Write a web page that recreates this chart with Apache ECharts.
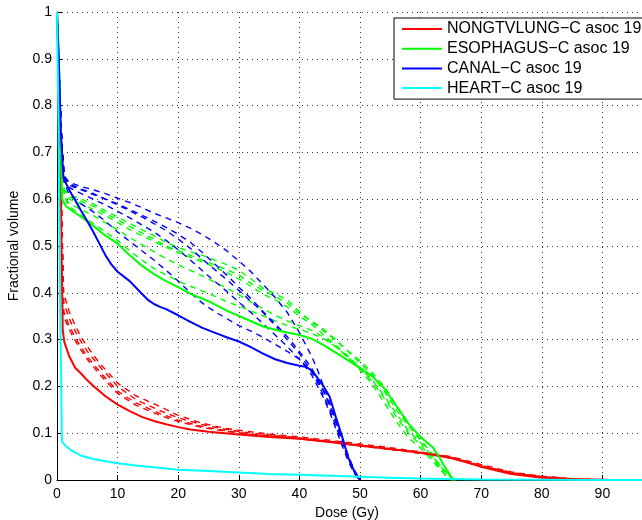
<!DOCTYPE html>
<html>
<head>
<meta charset="utf-8">
<script src="https://cdn.jsdelivr.net/npm/echarts@6/dist/echarts.min.js"></script>
<style>
  html, body { margin: 0; padding: 0; background: #fff; }
  #chart { width: 642px; height: 520px; }
</style>
</head>
<body>
<div id="chart"></div>
<script>
// Cumulative dose-volume histograms: planned curve (solid) and perturbed
// scenarios (dashed) for each structure.

const legendNames = [
  'NONGTVLUNG\u2212C asoc 19',
  'ESOPHAGUS\u2212C asoc 19',
  'CANAL\u2212C asoc 19',
  'HEART\u2212C asoc 19'
];

// Lung (solid)
const lungDose = [0, 0.3, 0.6, 0.8, 0.95, 1.2, 2, 3, 4, 5, 6, 8, 10, 12, 14, 16, 18, 20, 22, 25, 30, 35, 40, 45, 50, 55, 60, 63, 65, 68, 70, 72, 75, 78, 80, 82, 84, 86, 88];
const lungVol  = [1, 0.85, 0.65, 0.45, 0.32, 0.295, 0.265, 0.24, 0.227, 0.213, 0.201, 0.179, 0.161, 0.147, 0.135, 0.126, 0.119, 0.113, 0.108, 0.103, 0.097, 0.092, 0.088, 0.081, 0.073, 0.066, 0.058, 0.052, 0.047, 0.036, 0.028, 0.022, 0.013, 0.008, 0.005, 0.003, 0.0015, 0.0005, 0];

// Lung scenarios (dashed)
const lungAltDose = [0, 0.4, 0.8, 1.1, 2, 3, 4, 5, 7, 10, 13, 17, 20, 24, 28, 32, 36, 40, 45, 50, 55, 60, 65, 70, 75, 80, 85, 90, 95];
const lungAlt1 = [1, 0.8, 0.55, 0.40, 0.36, 0.33, 0.305, 0.285, 0.25, 0.207, 0.18, 0.157, 0.138, 0.121, 0.11, 0.103, 0.097, 0.092, 0.085, 0.077, 0.069, 0.06, 0.05, 0.033, 0.017, 0.008, 0.003, 0.001, 0];
const lungAlt2 = [1, 0.8, 0.55, 0.38, 0.345, 0.318, 0.295, 0.275, 0.243, 0.2, 0.172, 0.148, 0.133, 0.118, 0.108, 0.1, 0.095, 0.09, 0.083, 0.075, 0.067, 0.059, 0.049, 0.031, 0.016, 0.007, 0.003, 0.001, 0];
const lungAlt3 = [1, 0.8, 0.55, 0.36, 0.33, 0.305, 0.283, 0.264, 0.232, 0.19, 0.165, 0.142, 0.128, 0.114, 0.105, 0.098, 0.094, 0.089, 0.082, 0.074, 0.066, 0.058, 0.048, 0.03, 0.015, 0.007, 0.002, 0.001, 0];
const lungAlt4 = [1, 0.8, 0.55, 0.35, 0.322, 0.298, 0.277, 0.258, 0.226, 0.185, 0.16, 0.138, 0.125, 0.112, 0.104, 0.097, 0.093, 0.088, 0.081, 0.073, 0.065, 0.057, 0.047, 0.029, 0.014, 0.006, 0.002, 0.0008, 0];

// Esophagus (solid)
const esoDose = [0, 0.4, 0.7, 0.85, 1.5, 2, 4, 6, 8, 10, 12, 14, 16, 18, 20, 22, 25, 28, 31, 34, 37, 40, 42, 44, 46, 48, 50, 52, 54, 56, 58, 60, 62, 63, 64, 65, 65.5];
const esoVol  = [1, 0.85, 0.68, 0.6, 0.585, 0.58, 0.562, 0.543, 0.522, 0.505, 0.48, 0.458, 0.44, 0.425, 0.412, 0.398, 0.382, 0.362, 0.345, 0.328, 0.318, 0.31, 0.302, 0.288, 0.272, 0.256, 0.239, 0.222, 0.196, 0.158, 0.12, 0.092, 0.07, 0.05, 0.028, 0.008, 0];

// Esophagus scenarios (dashed)
const esoAltDose = [0, 0.4, 0.8, 1.2, 2, 4, 6, 8, 10, 12, 14, 16, 18, 20, 22, 24, 26, 28, 30, 32, 34, 36, 38, 40, 42, 44, 46, 48, 50, 52, 54, 56, 58, 60, 62, 63, 64, 65, 66];
const esoAlt1 = [1, 0.85, 0.7, 0.62, 0.61, 0.6, 0.59, 0.575, 0.562, 0.548, 0.535, 0.522, 0.508, 0.497, 0.488, 0.48, 0.47, 0.46, 0.448, 0.43, 0.41, 0.398, 0.385, 0.36, 0.338, 0.318, 0.298, 0.276, 0.255, 0.23, 0.2, 0.16, 0.122, 0.088, 0.05, 0.03, 0.012, 0, 0];
const esoAlt2 = [1, 0.85, 0.7, 0.615, 0.6, 0.59, 0.578, 0.565, 0.55, 0.535, 0.522, 0.51, 0.497, 0.486, 0.476, 0.466, 0.455, 0.443, 0.43, 0.414, 0.397, 0.385, 0.37, 0.35, 0.333, 0.31, 0.288, 0.265, 0.24, 0.21, 0.175, 0.135, 0.1, 0.075, 0.045, 0.028, 0.012, 0.002, 0];
const esoAlt3 = [1, 0.85, 0.7, 0.61, 0.59, 0.578, 0.565, 0.55, 0.535, 0.518, 0.503, 0.488, 0.473, 0.46, 0.448, 0.436, 0.423, 0.41, 0.396, 0.38, 0.366, 0.352, 0.34, 0.33, 0.32, 0.305, 0.285, 0.262, 0.235, 0.205, 0.165, 0.125, 0.09, 0.068, 0.04, 0.026, 0.012, 0.004, 0];
const esoAlt4 = [1, 0.85, 0.7, 0.605, 0.585, 0.565, 0.548, 0.53, 0.512, 0.49, 0.47, 0.452, 0.438, 0.425, 0.414, 0.404, 0.393, 0.381, 0.372, 0.361, 0.351, 0.34, 0.33, 0.322, 0.313, 0.302, 0.285, 0.262, 0.24, 0.214, 0.18, 0.142, 0.105, 0.08, 0.05, 0.034, 0.018, 0.006, 0];
const esoAlt5 = [1, 0.85, 0.7, 0.62, 0.605, 0.595, 0.585, 0.57, 0.556, 0.542, 0.528, 0.515, 0.5, 0.49, 0.48, 0.47, 0.46, 0.45, 0.438, 0.42, 0.405, 0.392, 0.378, 0.355, 0.34, 0.322, 0.3, 0.275, 0.25, 0.225, 0.19, 0.15, 0.115, 0.085, 0.055, 0.035, 0.02, 0.005, 0];

// Spinal canal (solid)
const canalDose = [0, 0.25, 0.65, 1.07, 2, 3, 4, 5, 6, 7, 8, 9, 10, 12, 14, 15, 16, 17, 18, 20, 22, 24, 26, 28, 30, 32, 34, 36, 38, 40, 41, 42, 43, 44, 45, 46, 47, 48, 49, 49.5, 50];
const canalVol  = [1, 0.92, 0.74, 0.645, 0.62, 0.598, 0.575, 0.553, 0.53, 0.505, 0.48, 0.46, 0.445, 0.425, 0.398, 0.385, 0.376, 0.37, 0.365, 0.352, 0.338, 0.325, 0.315, 0.305, 0.296, 0.284, 0.27, 0.258, 0.25, 0.244, 0.242, 0.235, 0.218, 0.2, 0.178, 0.135, 0.095, 0.05, 0.02, 0.008, 0];

// Spinal canal scenarios (dashed)
const canalAltDose = [0, 0.4, 0.8, 1.2, 2, 4, 6, 8, 10, 12, 14, 16, 18, 20, 22, 24, 26, 28, 30, 32, 34, 36, 38, 40, 42, 43, 44, 45, 46, 47, 48, 49, 50];
const canalAlt1 = [1, 0.85, 0.72, 0.65, 0.636, 0.627, 0.62, 0.612, 0.602, 0.593, 0.582, 0.57, 0.56, 0.55, 0.538, 0.524, 0.508, 0.49, 0.468, 0.445, 0.418, 0.39, 0.358, 0.315, 0.265, 0.235, 0.2, 0.165, 0.125, 0.085, 0.05, 0.02, 0];
const canalAlt2 = [1, 0.85, 0.72, 0.645, 0.63, 0.62, 0.61, 0.6, 0.588, 0.575, 0.562, 0.548, 0.533, 0.515, 0.495, 0.472, 0.45, 0.428, 0.405, 0.382, 0.358, 0.33, 0.3, 0.27, 0.232, 0.208, 0.18, 0.15, 0.115, 0.08, 0.048, 0.018, 0];
const canalAlt3 = [1, 0.85, 0.72, 0.64, 0.625, 0.612, 0.6, 0.588, 0.574, 0.56, 0.545, 0.53, 0.512, 0.492, 0.47, 0.447, 0.425, 0.403, 0.38, 0.358, 0.334, 0.31, 0.285, 0.258, 0.225, 0.2, 0.175, 0.145, 0.11, 0.075, 0.042, 0.015, 0];
const canalAlt4 = [1, 0.85, 0.72, 0.635, 0.61, 0.59, 0.573, 0.553, 0.53, 0.51, 0.49, 0.47, 0.448, 0.425, 0.4, 0.378, 0.36, 0.345, 0.33, 0.318, 0.305, 0.29, 0.275, 0.258, 0.232, 0.212, 0.19, 0.16, 0.125, 0.088, 0.052, 0.022, 0];
const canalAlt5 = [1, 0.85, 0.72, 0.648, 0.633, 0.622, 0.612, 0.6, 0.59, 0.578, 0.566, 0.553, 0.54, 0.525, 0.508, 0.486, 0.462, 0.438, 0.412, 0.388, 0.36, 0.334, 0.306, 0.275, 0.24, 0.215, 0.19, 0.16, 0.125, 0.09, 0.055, 0.022, 0];

// Heart (solid)
const heartDose = [0, 0.3, 0.5, 0.7, 0.8, 1.5, 2.5, 4, 6, 8, 10, 13, 16, 20, 25, 30, 35, 40, 45, 50, 55, 60, 65, 70, 80, 90, 100];
const heartVol  = [1, 0.7, 0.4, 0.2, 0.082, 0.072, 0.062, 0.052, 0.045, 0.04, 0.036, 0.031, 0.027, 0.022, 0.019, 0.016, 0.013, 0.011, 0.009, 0.007, 0.005, 0.003, 0.002, 0.001, 0.0005, 0.0002, 0];

const RED = '#ff0000', GREEN = '#00ff00', BLUE = '#0000ff', CYAN = '#00ffff';
const FONT = '"Liberation Sans", Arial, Helvetica, sans-serif';

function curve(name, dose, vol, color, dashed) {
  return {
    type: 'line',
    name: name,
    data: dose.map((d, i) => [d, vol[i]]),
    symbol: 'none',
    showSymbol: false,
    silent: true,
    animation: false,
    itemStyle: { color: color },
    lineStyle: dashed
      ? { color: color, width: 1.4, type: [6, 5] }
      : { color: color, width: 2, type: 'solid' }
  };
}

const series = [
  curve('lung-s1', lungAltDose, lungAlt1, RED, true),
  curve('lung-s2', lungAltDose, lungAlt2, RED, true),
  curve('lung-s3', lungAltDose, lungAlt3, RED, true),
  curve('lung-s4', lungAltDose, lungAlt4, RED, true),
  curve('eso-s1', esoAltDose, esoAlt1, GREEN, true),
  curve('eso-s2', esoAltDose, esoAlt2, GREEN, true),
  curve('eso-s3', esoAltDose, esoAlt3, GREEN, true),
  curve('eso-s4', esoAltDose, esoAlt4, GREEN, true),
  curve('eso-s5', esoAltDose, esoAlt5, GREEN, true),
  curve('canal-s1', canalAltDose, canalAlt1, BLUE, true),
  curve('canal-s2', canalAltDose, canalAlt2, BLUE, true),
  curve('canal-s3', canalAltDose, canalAlt3, BLUE, true),
  curve('canal-s4', canalAltDose, canalAlt4, BLUE, true),
  curve('canal-s5', canalAltDose, canalAlt5, BLUE, true),
  curve(legendNames[0], lungDose, lungVol, RED, false),
  curve(legendNames[1], esoDose, esoVol, GREEN, false),
  curve(legendNames[2], canalDose, canalVol, BLUE, false),
  curve(legendNames[3], heartDose, heartVol, CYAN, false)
];

const gridLine = { show: true, lineStyle: { color: '#333', width: 1, type: [1, 4] } };
const axisTick = { show: true, inside: true, length: 5, lineStyle: { color: '#000', width: 1 } };
const axisLine = { show: true, onZero: false, lineStyle: { color: '#000', width: 1 } };

const chart = echarts.init(document.getElementById('chart'), null, { renderer: 'canvas' });
chart.setOption({
  animation: false,
  backgroundColor: '#fff',
  textStyle: { fontFamily: FONT },
  grid: { left: 57, right: -21, top: 12, bottom: 40, containLabel: false, outerBoundsMode: 'none' },
  legend: {
    data: legendNames,
    orient: 'vertical',
    left: 394,
    top: 18,
    padding: [3, 14, 3, 8],
    itemGap: 3.7,
    itemWidth: 40,
    itemHeight: 2,
    icon: 'rect',
    selectedMode: false,
    backgroundColor: '#fff',
    borderColor: '#000',
    borderWidth: 1,
    borderRadius: 0,
    textStyle: { fontSize: 16, lineHeight: 16, color: '#000', fontFamily: FONT }
  },
  xAxis: {
    type: 'value',
    min: 0,
    max: 100,
    interval: 10,
    name: 'Dose (Gy)',
    nameLocation: 'middle',
    nameGap: 21,
    nameTextStyle: { fontSize: 14, color: '#000', fontFamily: FONT, padding: [0, 26, 0, 0] },
    axisLine: axisLine,
    axisTick: axisTick,
    splitLine: gridLine,
    axisLabel: { fontSize: 14, color: '#000', margin: 7, fontFamily: FONT }
  },
  yAxis: {
    type: 'value',
    min: 0,
    max: 1,
    interval: 0.1,
    name: 'Fractional volume',
    nameLocation: 'middle',
    nameGap: 30,
    nameRotate: 90,
    nameTextStyle: { fontSize: 14, color: '#000', fontFamily: FONT },
    axisLine: axisLine,
    axisTick: axisTick,
    splitLine: gridLine,
    axisLabel: {
      fontSize: 14, color: '#000', margin: 5, fontFamily: FONT,
      formatter: v => String(+v.toFixed(1))
    }
  },
  series: series
});
</script>
</body>
</html>
